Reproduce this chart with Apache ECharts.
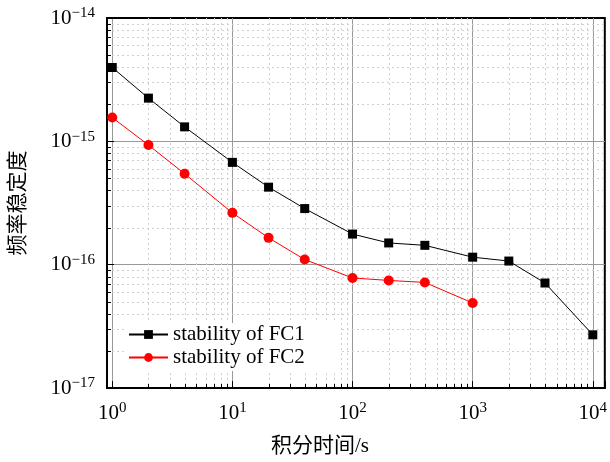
<!DOCTYPE html>
<html>
<head>
<meta charset="utf-8">
<script src="https://cdn.jsdelivr.net/npm/echarts@6/dist/echarts.min.js"></script>
<style>
  html, body { margin: 0; padding: 0; background: #fff; }
  #chart { width: 610px; height: 462px; }
</style>
</head>
<body>
<div id="chart"></div>
<script>
// integration time (s) and stability values
const timeFC1 = [1, 2, 4, 10, 20, 40, 100, 200, 400, 1000, 2000, 4000, 10000];
const stabFC1 = [3.97e-15, 2.24e-15, 1.31e-15, 6.75e-16, 4.25e-16, 2.85e-16, 1.77e-16, 1.50e-16, 1.435e-16, 1.15e-16, 1.07e-16, 7.1e-17, 2.7e-17];
const timeFC2 = [1, 2, 4, 10, 20, 40, 100, 200, 400, 1000];
const stabFC2 = [1.56e-15, 9.33e-16, 5.46e-16, 2.63e-16, 1.65e-16, 1.10e-16, 7.8e-17, 7.45e-17, 7.18e-17, 4.89e-17];
// decade exponents used for tick labels
const xExponents = [0, 1, 2, 3, 4];
const yExponents = [-17, -16, -15, -14];

const serif = 'Liberation Serif';
const cjk = "'Liberation Serif', 'Noto Sans CJK SC'";

// minor (2..9) positions of each decade, for dotted grid and small ticks
const xMinor = [];
for (let d = 0; d < 4; d++) for (let k = 2; k < 10; k++) xMinor.push([k * Math.pow(10, d), 1e-16]);
const yMinor = [];
for (let d = -17; d < -14; d++) for (let k = 2; k < 10; k++) yMinor.push([10, k * Math.pow(10, d)]);

function powLabel(exps, v) {
  const e = Math.round(Math.log10(v));
  if (Math.abs(Math.log10(v) - e) > 1e-6 || exps.indexOf(e) < 0) return '';
  return '{b|10}{s|' + String(e).replace('-', '\u2212') + '}';
}

const richLabel = {
  b: { fontFamily: serif, fontSize: 21, lineHeight: 24, color: '#000' },
  s: { fontFamily: serif, fontSize: 15, lineHeight: 13, verticalAlign: 'top', color: '#000' }
};

function minorX(params, api) {
  const cs = params.coordSys;
  const p = api.coord([api.value(0), api.value(1)]);
  const x = Math.round(p[0]) + 0.5;
  const y2 = cs.y + cs.height;
  return {
    type: 'group',
    children: [
      { type: 'line', shape: { x1: x, y1: cs.y, x2: x, y2: y2 }, style: { stroke: '#cfcfcf', lineWidth: 1, lineDash: [2, 3] } },
      { type: 'line', shape: { x1: x, y1: y2, x2: x, y2: y2 - 4 }, style: { stroke: '#000', lineWidth: 1 } }
    ]
  };
}

function minorY(params, api) {
  const cs = params.coordSys;
  const p = api.coord([api.value(0), api.value(1)]);
  const y = Math.round(p[1]) + 0.5;
  return {
    type: 'group',
    children: [
      { type: 'line', shape: { x1: cs.x, y1: y, x2: cs.x + cs.width, y2: y }, style: { stroke: '#cfcfcf', lineWidth: 1, lineDash: [2, 3] } },
      { type: 'line', shape: { x1: cs.x, y1: y, x2: cs.x + 4, y2: y }, style: { stroke: '#000', lineWidth: 1 } }
    ]
  };
}

var myChart = echarts.init(document.getElementById('chart'));
var option = {
  animation: false,
  backgroundColor: '#fff',
  grid: {
    left: 105,
    right: 2,
    top: 18,
    bottom: 74,
    show: true,
    borderColor: '#000',
    borderWidth: 2
  },
  legend: {
    data: ['stability of FC1', 'stability of FC2'],
    orient: 'vertical',
    left: 127,
    top: 323,
    itemWidth: 39,
    itemHeight: 11,
    itemGap: 2,
    padding: [1, 36, 3, 1],
    backgroundColor: '#fff',
    textStyle: { fontFamily: serif, fontSize: 21, color: '#000' }
  },
  xAxis: {
    type: 'log',
    min: 0.904,
    max: 12589,
    splitNumber: 4,
    name: '积分时间/s',
    nameLocation: 'middle',
    nameGap: 48,
    nameTextStyle: { fontFamily: cjk, fontSize: 21, color: '#000', padding: [0, 72, 0, 0] },
    axisLine: { show: true, lineStyle: { color: '#000', width: 2 } },
    axisTick: { show: true, inside: true, length: 7, lineStyle: { color: '#000', width: 1 } },
    axisLabel: {
      margin: 13,
      formatter: function (v) { return powLabel(xExponents, v); },
      rich: richLabel
    },
    splitLine: { show: true, showMinLine: false, showMaxLine: false, lineStyle: { color: '#999', width: 1 } }
  },
  yAxis: {
    type: 'log',
    min: 1e-17,
    max: 1e-14,
    splitNumber: 3,
    name: '频率稳定度',
    nameLocation: 'middle',
    nameGap: 78,
    nameTextStyle: { fontFamily: cjk, fontSize: 21, color: '#000' },
    axisLine: { show: true, lineStyle: { color: '#000', width: 2 } },
    axisTick: { show: true, inside: true, length: 7, lineStyle: { color: '#000', width: 1 } },
    axisLabel: {
      margin: 12,
      formatter: function (v) { return powLabel(yExponents, v); },
      rich: richLabel
    },
    splitLine: { show: true, showMinLine: false, showMaxLine: false, lineStyle: { color: '#999', width: 1 } }
  },
  series: [
    { type: 'custom', name: 'xminor', silent: true, z: 1, renderItem: minorX, data: xMinor },
    { type: 'custom', name: 'yminor', silent: true, z: 1, renderItem: minorY, data: yMinor },
    {
      name: 'stability of FC1',
      type: 'line',
      z: 3,
      symbol: 'rect',
      symbolSize: 9,
      itemStyle: { color: '#000' },
      lineStyle: { color: '#000', width: 1 },
      data: timeFC1.map(function (t, i) { return [t, stabFC1[i]]; })
    },
    {
      name: 'stability of FC2',
      type: 'line',
      z: 3,
      symbol: 'circle',
      symbolSize: 10,
      itemStyle: { color: '#ff0000' },
      lineStyle: { color: '#ff0000', width: 1 },
      data: timeFC2.map(function (t, i) { return [t, stabFC2[i]]; })
    }
  ]
};
option && myChart.setOption(option);
</script>
</body>
</html>
